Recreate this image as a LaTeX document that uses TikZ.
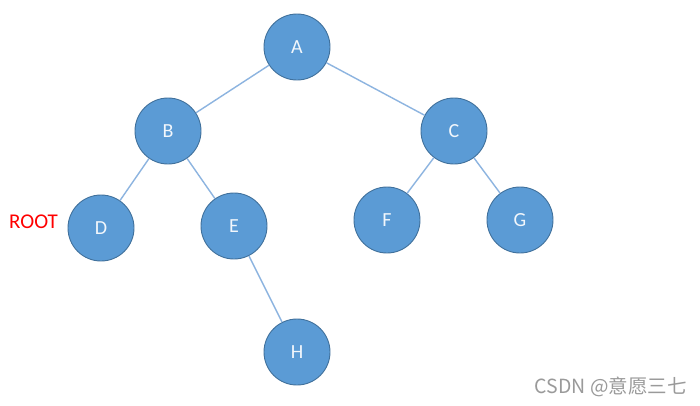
\documentclass[tikz,border=0pt]{standalone}
\usepackage{fontspec}
\setmainfont{Carlito}
\newfontfamily\cjkfont{Noto Sans CJK SC}
\definecolor{nodefill}{HTML}{5B9BD5}
\definecolor{nodeedge}{HTML}{41719C}
\definecolor{edgecol}{HTML}{8DB4E0}
\definecolor{wmgray}{HTML}{9A9A9A}
\begin{document}
\begin{tikzpicture}[x=1pt,y=-1pt,
  treenode/.style={circle,fill=nodefill,draw=nodeedge,line width=0.9pt,minimum size=66pt,inner sep=0pt,text=white!92!nodefill,font=\fontsize{20}{24}\selectfont},
  link/.style={draw=edgecol,line width=1.4pt}]
\useasboundingbox[fill=white] (0,0) rectangle (700,405);
\node[treenode] (A) at (297,47) {A};
\node[treenode] (B) at (168,131) {B};
\node[treenode] (C) at (454,131) {C};
\node[treenode] (D) at (101,228) {D};
\node[treenode] (E) at (234,226) {E};
\node[treenode] (F) at (387,220) {F};
\node[treenode] (G) at (520,220) {G};
\node[treenode] (H) at (297,352) {H};
\draw[link] (A) -- (B);
\draw[link] (A) -- (C);
\draw[link] (B) -- (D);
\draw[link] (B) -- (E);
\draw[link] (C) -- (F);
\draw[link] (C) -- (G);
\draw[link] (E) -- (H);
\node[text=red,font=\fontsize{21}{25}\selectfont,anchor=west,inner sep=0pt] (root) at (9,222) {ROOT};
\node[text=wmgray,font=\cjkfont\fontsize{19.5}{23}\selectfont,anchor=east,inner sep=0pt] (wm) at (687,387) {CSDN @意愿三七};
\end{tikzpicture}
\end{document}
